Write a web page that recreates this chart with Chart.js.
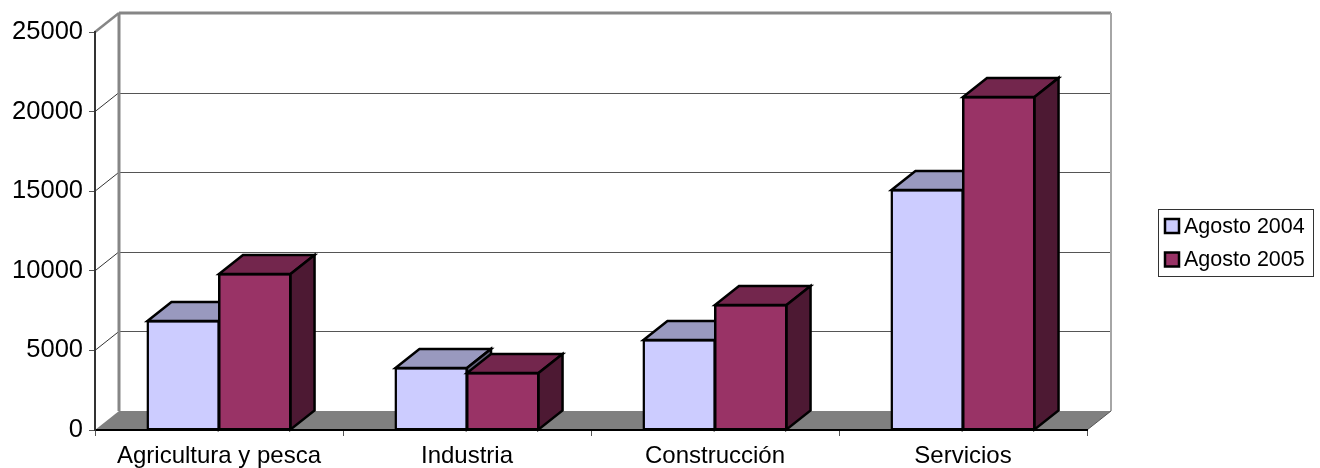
<!DOCTYPE html>
<html>
<head>
<meta charset="utf-8">
<title>Agosto 2004 / Agosto 2005</title>
<script src="https://cdn.jsdelivr.net/npm/chart.js@4"></script>
<style>
    html, body { margin: 0; padding: 0; background: #fff; }
    canvas { display: block; }
</style>
</head>
<body>
<canvas id="barChart" width="1320" height="468"></canvas>
<script>
const categories = ['Agricultura y pesca', 'Industria', 'Construcción', 'Servicios'];
const agosto2004 = [6850, 3900, 5650, 15080];
const agosto2005 = [9800, 3580, 7850, 20920];
const yMin = 0;
const yMax = 25000;
const yStep = 5000;

const fontName = '"Liberation Sans", Arial, sans-serif';

// depth of the fake 3d box
const depthX = 24;
const depthY = -19;
const edgeWidth = 2.5;

const frontColors = ['#ccccff', '#993366'];
const topColors = ['#9999bf', '#73264d'];
const sideColors = ['#66667f', '#4d1933'];

function polygon(ctx, pts, fill, stroke, lineWidth) {
    ctx.beginPath();
    ctx.moveTo(pts[0][0], pts[0][1]);
    for (let i = 1; i < pts.length; i++) {
        ctx.lineTo(pts[i][0], pts[i][1]);
    }
    ctx.closePath();
    if (fill) {
        ctx.fillStyle = fill;
        ctx.fill();
    }
    if (stroke) {
        ctx.strokeStyle = stroke;
        ctx.lineWidth = lineWidth;
        ctx.lineJoin = 'miter';
        ctx.stroke();
    }
}

function line(ctx, x1, y1, x2, y2, color, width) {
    ctx.beginPath();
    ctx.moveTo(x1, y1);
    ctx.lineTo(x2, y2);
    ctx.strokeStyle = color;
    ctx.lineWidth = width;
    ctx.stroke();
}

function drawBoxes(chart, index) {
    const ctx = chart.ctx;
    ctx.save();
    chart.getDatasetMeta(index).data.forEach(function (bar) {
        const left = bar.x - bar.width / 2;
        const right = bar.x + bar.width / 2;
        const top = bar.y;
        const bottom = bar.base;
        polygon(ctx, [
            [left, top],
            [right, top],
            [right + depthX, top + depthY],
            [left + depthX, top + depthY]
        ], topColors[index], '#000000', edgeWidth);
        polygon(ctx, [
            [right, top],
            [right + depthX, top + depthY],
            [right + depthX, bottom + depthY],
            [right, bottom]
        ], sideColors[index], '#000000', edgeWidth);
    });
    ctx.restore();
}

// walls, floor and grid behind the bars
const wallsPlugin = {
    id: 'walls',
    beforeDraw(chart) {
        const ctx = chart.ctx;
        const area = chart.chartArea;
        const y = chart.scales.y;
        const backLeft = area.left + depthX;
        const backRight = area.right + depthX;
        const backTop = area.top + depthY;
        const backBottom = area.bottom + depthY;

        ctx.save();
        polygon(ctx, [
            [area.left, area.bottom],
            [area.right, area.bottom],
            [backRight, backBottom],
            [backLeft, backBottom]
        ], '#808080');

        y.ticks.forEach(function (tick) {
            const py = y.getPixelForValue(tick.value);
            if (tick.value === yMin || tick.value === yMax) {
                return;
            }
            line(ctx, area.left, py, backLeft, py + depthY, '#333333', 1);
            line(ctx, backLeft, Math.round(py + depthY) + 0.5, backRight, Math.round(py + depthY) + 0.5, '#555555', 1.2);
        });

        line(ctx, backLeft, backTop, backLeft, backBottom, '#868686', 3);
        line(ctx, backLeft, backTop, backRight, backTop, '#868686', 3);
        line(ctx, backRight, backTop, backRight, backBottom, '#a6a6a6', 2);
        line(ctx, area.left, area.top, backLeft, backTop, '#868686', 2.5);
        line(ctx, area.right, area.bottom, backRight, backBottom, '#555555', 1);
        ctx.restore();
    }
};

// chart.js paints the last dataset first, here the first one has to go under the second
const boxPlugin = {
    id: 'box',
    beforeDatasetDraw(chart, args) {
        if (args.index === 0) {
            return false;
        }
        chart.getDatasetMeta(0).controller.draw();
        drawBoxes(chart, 0);
    },
    afterDatasetDraw(chart, args) {
        drawBoxes(chart, args.index);
    }
};

const legendPlugin = {
    id: 'boxLegend',
    afterDraw(chart) {
        const ctx = chart.ctx;
        ctx.save();
        ctx.fillStyle = '#ffffff';
        ctx.fillRect(1158, 209, 156, 68);
        ctx.strokeStyle = '#333333';
        ctx.lineWidth = 1;
        ctx.strokeRect(1158.5, 209.5, 155, 67);
        ctx.font = '21.5px ' + fontName;
        ctx.textBaseline = 'middle';
        chart.data.datasets.forEach(function (ds, i) {
            const cy = 226 + i * 33.5;
            ctx.fillStyle = ds.backgroundColor;
            ctx.fillRect(1165, cy - 7, 14, 14);
            ctx.strokeStyle = '#000000';
            ctx.lineWidth = edgeWidth;
            ctx.strokeRect(1165, cy - 7, 14, 14);
            ctx.fillStyle = '#000000';
            ctx.fillText(ds.label, 1184, cy + 1);
        });
        ctx.restore();
    }
};

new Chart(document.getElementById('barChart'), {
    type: 'bar',
    data: {
        labels: categories,
        datasets: [
            {
                label: 'Agosto 2004',
                data: agosto2004,
                backgroundColor: frontColors[0]
            },
            {
                label: 'Agosto 2005',
                data: agosto2005,
                backgroundColor: frontColors[1]
            }
        ]
    },
    options: {
        responsive: false,
        animation: false,
        layout: { padding: { top: 32, right: 233, left: 0, bottom: 0 } },
        datasets: {
            bar: {
                barPercentage: 1,
                categoryPercentage: 0.577,
                borderColor: '#000000',
                borderWidth: edgeWidth,
                borderSkipped: false,
                inflateAmount: 1,
                clip: false
            }
        },
        plugins: {
            legend: { display: false },
            tooltip: { enabled: false }
        },
        scales: {
            x: {
                afterFit(scale) { scale.height = 38; },
                border: { color: '#000000', width: 2 },
                grid: { drawOnChartArea: false, color: '#555555', tickLength: 6, offset: true },
                ticks: { color: '#000000', padding: 6, maxRotation: 0, font: { family: fontName, size: 24 } }
            },
            y: {
                min: yMin,
                max: yMax,
                afterFit(scale) { scale.width = 95; },
                border: { color: '#333333', width: 2 },
                grid: { drawOnChartArea: false, color: '#555555', tickLength: 6 },
                ticks: {
                    stepSize: yStep,
                    color: '#000000',
                    padding: 6,
                    font: { family: fontName, size: 25.5 },
                    callback: function (v) { return String(v); }
                }
            }
        }
    },
    plugins: [wallsPlugin, boxPlugin, legendPlugin]
});
</script>
</body>
</html>
